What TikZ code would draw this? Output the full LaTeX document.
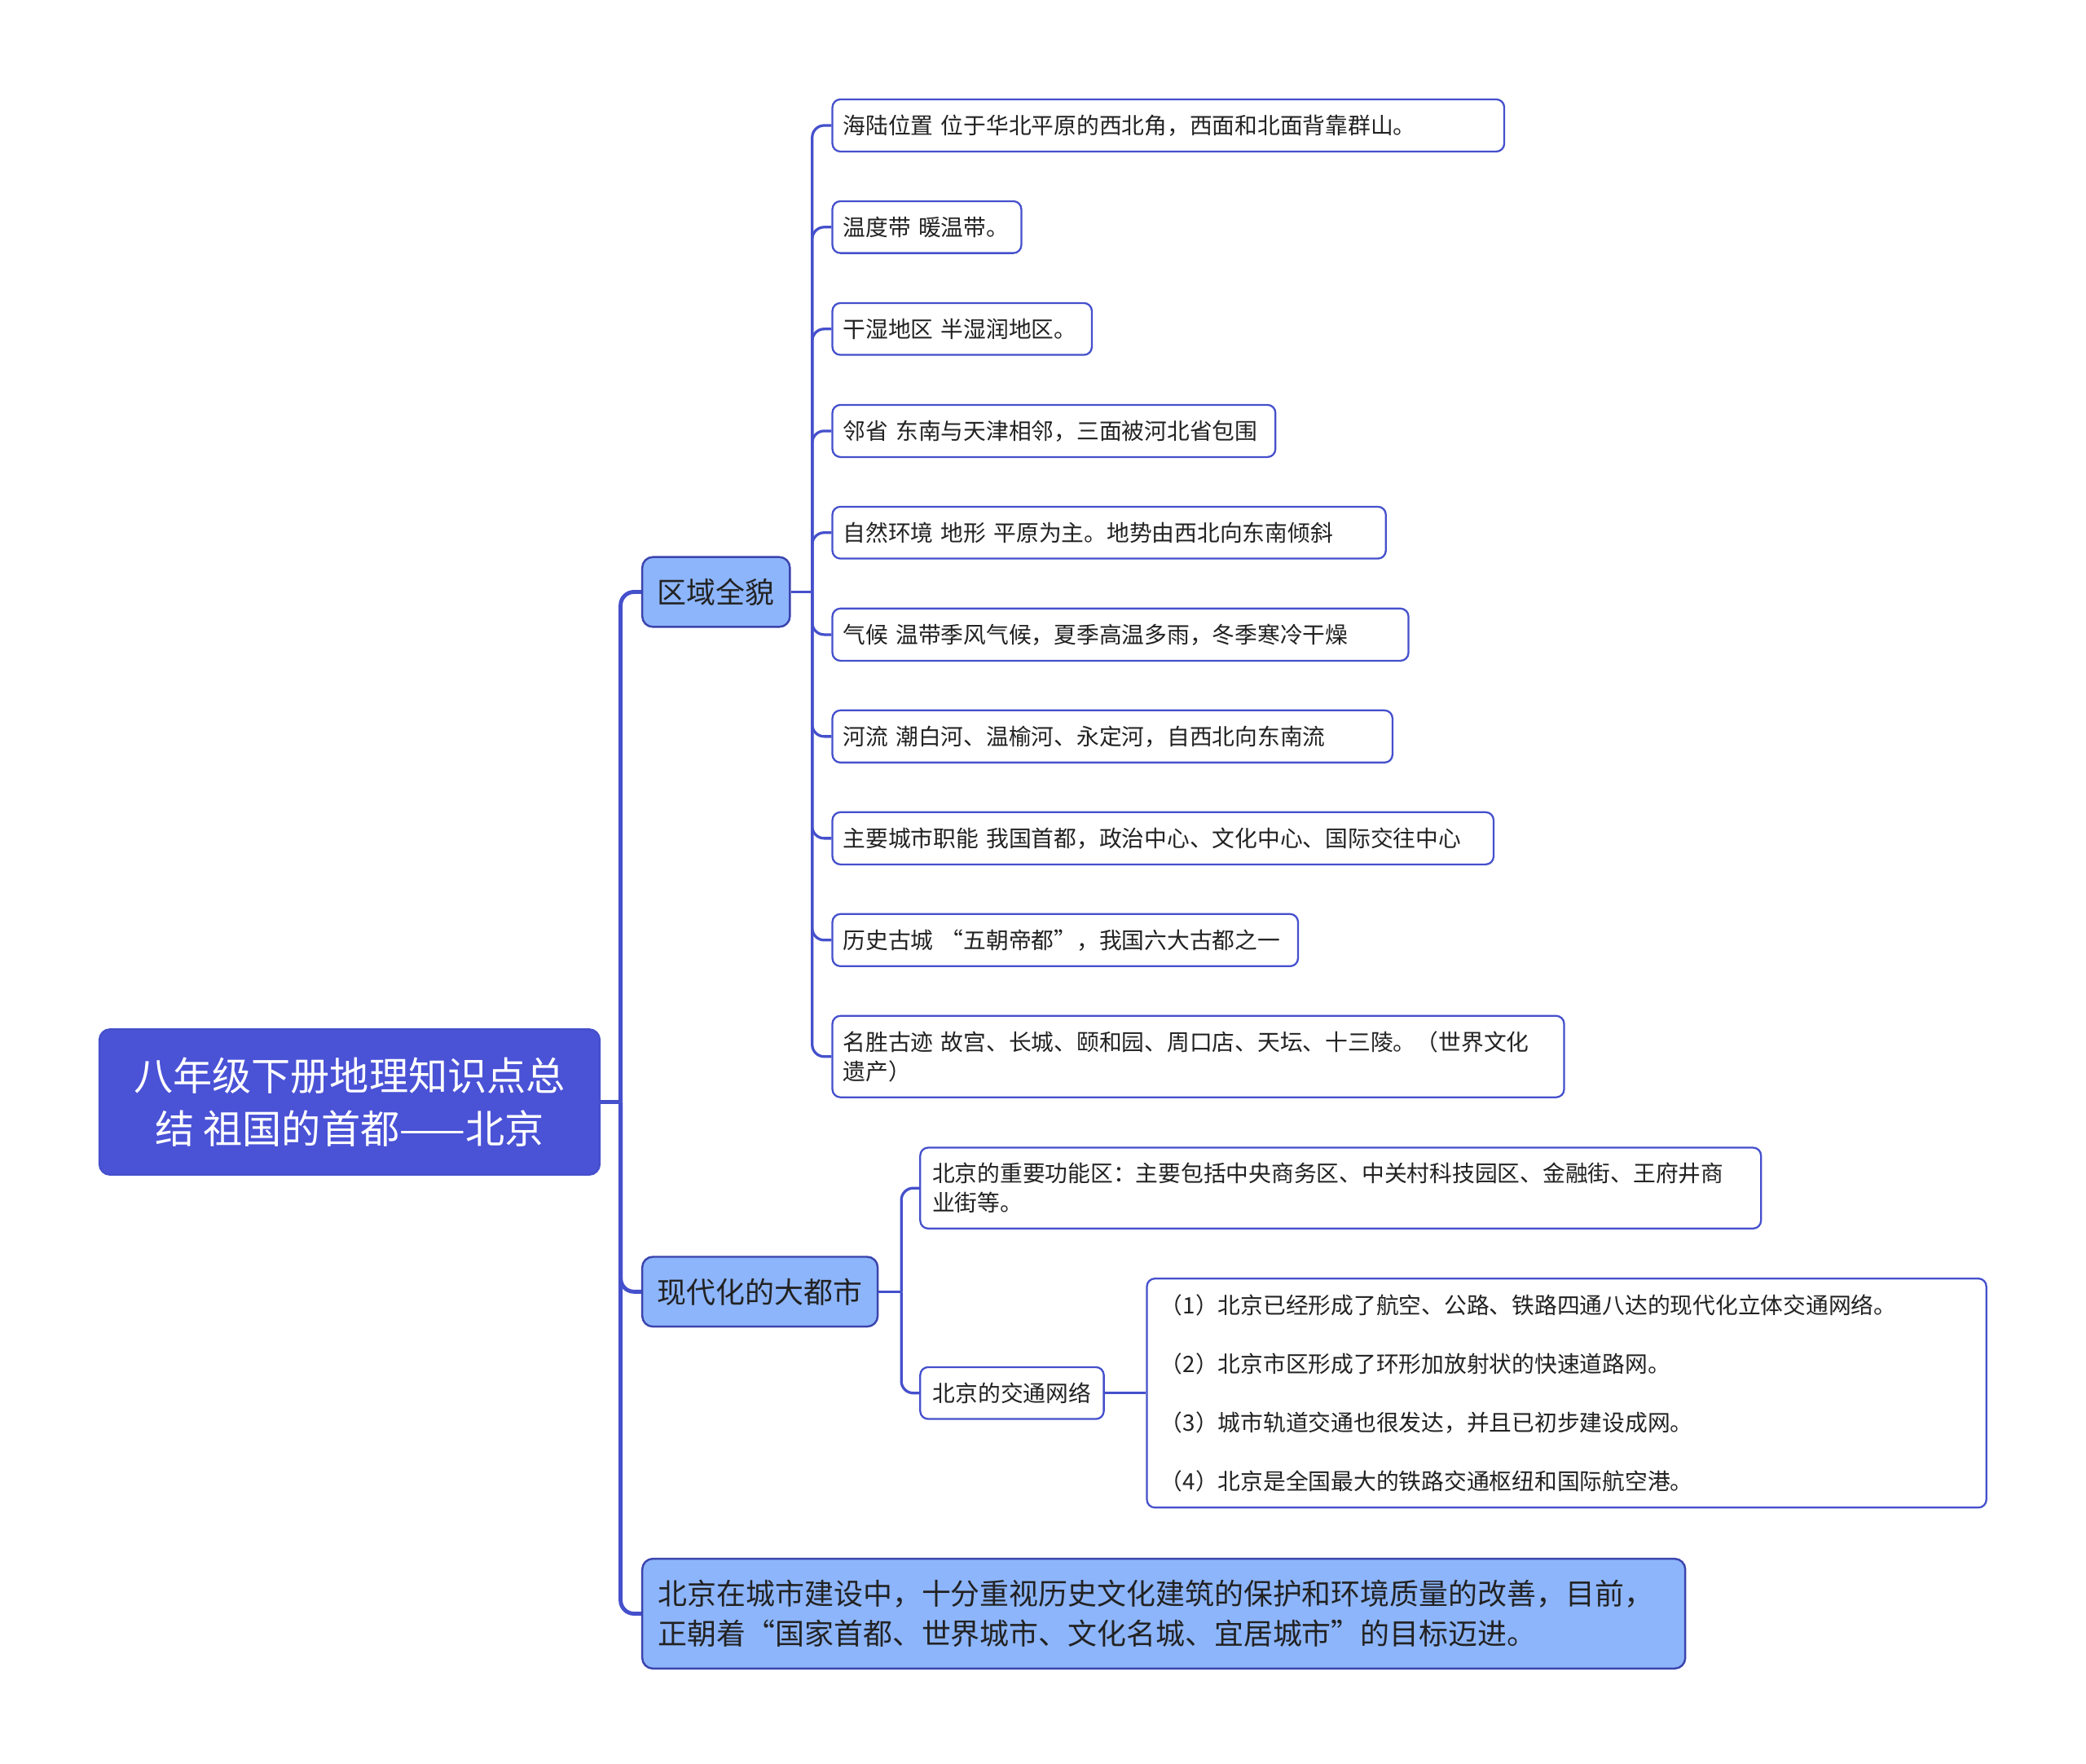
\documentclass[tikz,border=0pt]{standalone}
\usepackage{fontspec}
\setmainfont{Noto Sans CJK SC}
\usetikzlibrary{positioning}
\definecolor{rootfill}{HTML}{4A52D6}
\definecolor{topicfill}{HTML}{8DB5FB}
\definecolor{linkcol}{HTML}{4550CC}
\definecolor{inkcol}{HTML}{222222}

\begin{document}
\begin{tikzpicture}[x=1pt,y=-1pt,
  rootbox/.style={draw=linkcol, line width=1.5pt, fill=rootfill, rounded corners=8pt, text=white, font={\fontsize{29.5}{40}\selectfont}, align=center, minimum width=376pt, minimum height=109pt, inner ysep=21pt},
  topicbox/.style={draw=linkcol!85!black, line width=1.5pt, fill=topicfill, rounded corners=8pt, text=inkcol, font={\fontsize{22}{30}\selectfont}, minimum height=52pt, inner xsep=11.5pt, inner ysep=16pt},
  leafbox/.style={draw=linkcol, line width=1.4pt, fill=white, rounded corners=6pt, text=inkcol, font={\fontsize{17}{22}\selectfont}, align=left, minimum height=39pt, inner xsep=8pt, inner ysep=11.5pt},
  trunk/.style={draw=linkcol, line width=3pt, rounded corners=10pt},
  leaflink/.style={draw=linkcol, line width=2pt, rounded corners=9pt}]
\useasboundingbox[fill=white] (0,0) rectangle (1568,1326);

% root and main topics
\node[rootbox, anchor=north west] (root) at (74,773) {八年级下册地理知识点总\\结 祖国的首都——北京};
\node[topicbox, anchor=north west] (quyu) at (482,418) {区域全貌};
\node[topicbox, anchor=north west] (xiandai) at (482,944) {现代化的大都市};
\node[topicbox, anchor=north west, align=left, text width=760pt, inner xsep=12pt] (jianshe) at (482,1171) {北京在城市建设中，十分重视历史文化建筑的保护和环境质量的改善，目前，\\正朝着“国家首都、世界城市、文化名城、宜居城市”的目标迈进。};

\draw[trunk] (root.east) -- ++(15,0) coordinate (rj);
\draw[trunk] (rj) |- (quyu.west);
\draw[trunk] (rj) |- (xiandai.west);
\draw[trunk] (rj) |- (jianshe.west);

% 区域全貌
\draw[leaflink] (quyu.east) -- ++(16,0) coordinate (qj);
\foreach \nm/\tw/\txt [count=\i from 0] in {
  haolu/489/{海陆位置 位于华北平原的西北角，西面和北面背靠群山。},
  wendu/126/{温度带 暖温带。},
  ganshi/179/{干湿地区 半湿润地区。},
  linsheng/317/{邻省 东南与天津相邻，三面被河北省包围},
  ziran/400/{自然环境 地形 平原为主。地势由西北向东南倾斜},
  qihou/417/{气候 温带季风气候，夏季高温多雨，冬季寒冷干燥},
  heliu/405/{河流 潮白河、温榆河、永定河，自西北向东南流},
  zhineng/481/{主要城市职能 我国首都，政治中心、文化中心、国际交往中心},
  gucheng/334/{历史古城 “五朝帝都”，我国六大古都之一},
  mingsheng/534/{名胜古迹 故宫、长城、颐和园、周口店、天坛、十三陵。（世界文化\\遗产）}}
{
  \node[leafbox, text width=\tw pt, anchor=north west] (\nm) at (625,74+76.55*\i) {\txt};
  \draw[leaflink] (qj) |- (\nm.west);
}

% 现代化的大都市
\node[leafbox, text width=614pt, inner xsep=9pt, anchor=north west] (gongneng) at (691,862) {北京的重要功能区：主要包括中央商务区、中关村科技园区、金融街、王府井商\\业街等。};
\node[leafbox, inner xsep=9.5pt, anchor=north west] (jiaotong) at (691,1027) {北京的交通网络};
\node[leafbox, text width=611pt, inner xsep=10pt, inner ysep=12pt, font={\fontsize{17}{44}\selectfont}, right=31pt of jiaotong] (wangluo) {（1）北京已经形成了航空、公路、铁路四通八达的现代化立体交通网络。\\（2）北京市区形成了环形加放射状的快速道路网。\\（3）城市轨道交通也很发达，并且已初步建设成网。\\（4）北京是全国最大的铁路交通枢纽和国际航空港。};

\draw[leaflink] (xiandai.east) -- ++(17,0) coordinate (xj);
\draw[leaflink] (xj) |- (gongneng.west);
\draw[leaflink] (xj) |- (jiaotong.west);
\draw[leaflink] (jiaotong.east) -- (wangluo.west);
\end{tikzpicture}
\end{document}
